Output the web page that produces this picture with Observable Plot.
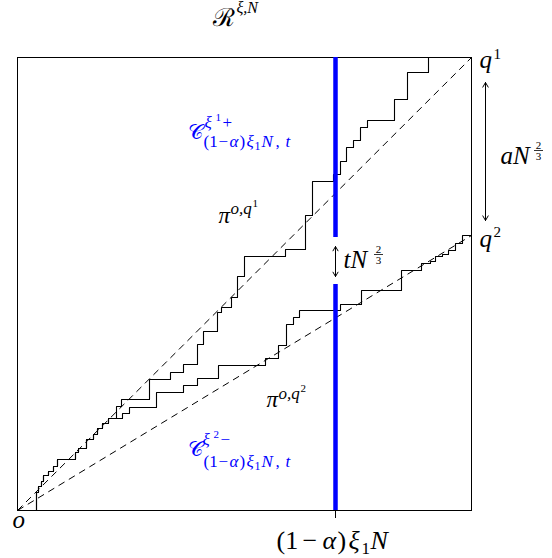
<!DOCTYPE html>
<html><head><meta charset="utf-8">
<script src="https://cdn.jsdelivr.net/npm/d3@7"></script>
<script src="https://cdn.jsdelivr.net/npm/@observablehq/plot@0.6"></script>
<style>body{margin:0;background:#fff;}</style>
</head><body><div id="chart"></div>
<script>
// Staircase geodesic pi^{o,q1}: step corner points (right, then up)
const upperX = [0,19,21,24,26,31,36,40,58,61,69,76,80,85,91,99,104,132,153,166,180,186,200,204,214,220,227,268,288,295,316,323,329,336,343,350,377,390,411];
const upperY = [0,18,24,29,35,39,44,51,58,62,71,76,82,87,92,104,111,131,138,146,166,179,198,203,213,234,254,261,295,329,336,349,363,370,383,390,411,438,453];
// Staircase geodesic pi^{o,q2}
const lowerX = [0,19,21,24,26,31,36,40,58,61,69,76,80,85,91,105,112,139,166,180,201,248,261,269,276,282,323,344,384,404,413,418,425,431,438,445,454];
const lowerY = [0,18,24,29,35,39,44,51,58,62,71,76,82,87,92,97,103,118,125,132,145,152,165,186,193,200,206,220,240,247,249,254,256,260,267,275,275];
// endpoints
const origin = [0, 0];
const q1 = [454, 453];
const q2 = [454, 275];
// vertical cut at (1-alpha) xi_1 N, with its gap
const cutX = 318;
const cutGap = [226, 273];

// label pieces: [text, x, y(baseline), size, italic, colour]
const K = "black", B = "#0000ff";
const pieces = [
  ["ℛ", 195, 485, 25, 0, K], ["ξ,N", 219, 498, 16, 1, K],
  ["q", 462, 443, 25, 1, K], ["1", 476, 452, 15, 0, K],
  ["q", 462, 264, 25, 1, K], ["2", 476, 274, 15, 0, K],
  ["o", -5, -17, 25, 1, K],
  ["π", 201, 288, 23, 1, K], ["o,q", 213, 297, 17, 1, K], ["1", 235, 304, 11, 0, K],
  ["π", 249, 104, 23, 1, K], ["o,q", 261, 112, 17, 1, K], ["2", 283, 119, 11, 0, K],
  ["aN", 483, 347, 25, 1, K],
  ["tN", 326, 243, 25, 1, K],
  // bottom tick label (1 − α)ξ1N
  ["(1", 259, -38, 26, 0, K], ["−", 285, -38, 26, 0, K], ["α", 305, -38, 26, 1, K],
  [")", 320, -38, 26, 0, K], ["ξ", 331, -38, 26, 1, K], ["1", 344, -43, 17, 0, K], ["N", 353, -38, 26, 1, K],
  // C^{xi1+}
  ["𝒞", 170, 372, 21, 0, B], ["ξ", 187, 383, 17, 1, B], ["1", 198, 390, 11, 0, B], ["+", 205, 383, 17, 0, B],
  // C^{xi2-}
  ["𝒞", 170, 55, 21, 0, B], ["ξ", 185, 66, 17, 1, B], ["2", 196, 73, 11, 0, B], ["−", 203, 66, 17, 0, B]
];
// subscripts (1−α)ξ1N,t for both C labels
const subBase = [364, 44];
const subPieces = [["(1", 186, 0], ["−", 201, 0], ["α", 212, 1], [")", 222, 0], ["ξ", 229, 1], ["1", 237, 0], ["N", 244, 1], [",", 258, 0], ["t", 268, 1]];
for (const yb of subBase) for (const [t, x, it] of subPieces)
  pieces.push([t, x, t === "1" ? yb - 3 : yb, t === "1" ? 12 : 17, it, B]);

// stacked fractions 2/3
const fracs = [{x: 521, y: 360, num: "2", den: "3"}, {x: 361, y: 256, num: "2", den: "3"}];
// double arrows (x, low, high)
const dArrows = [{x: 468, lo: 290, hi: 428}, {x: cutX, lo: 234, hi: 264}];

const P = pieces.map(p => ({t: p[0], x: p[1], y: p[2], s: p[3], it: p[4], c: p[5]}));
const upper = upperX.map((x, i) => ({x, y: upperY[i]}));
const lower = lowerX.map((x, i) => ({x, y: lowerY[i]}));
const arrows = dArrows.flatMap(a => {const m = (a.lo + a.hi) / 2; return [{x: a.x, y1: m, y2: a.hi}, {x: a.x, y1: m, y2: a.lo}];});
const font = "'Liberation Serif', 'DejaVu Serif', serif";

const chart = Plot.plot({
  width: 552, height: 558,
  marginLeft: 17, marginRight: 81, marginTop: 57, marginBottom: 48,
  x: {domain: [0, 454]},
  y: {domain: [0, 453], axis: null},
  style: {background: "white", overflow: "visible"},
  marks: [
    Plot.frame({stroke: "black", strokeWidth: 1}),
    Plot.link([q1, q2], {x1: () => origin[0], y1: () => origin[1], x2: d => d[0], y2: d => d[1], stroke: "black", strokeWidth: 1, strokeDasharray: "7,5"}),
    Plot.line(upper, {x: "x", y: "y", curve: "step-after", stroke: "black", strokeWidth: 1.1}),
    Plot.line(lower, {x: "x", y: "y", curve: "step-after", stroke: "black", strokeWidth: 1.1}),
    Plot.ruleX([{y1: 0, y2: cutGap[0]}, {y1: cutGap[1], y2: 453}], {x: () => cutX, y1: "y1", y2: "y2", stroke: "blue", strokeWidth: 4.5}),
    Plot.axisX({ticks: [cutX], tickFormat: () => "", tickSize: 8, label: null}),
    Plot.arrow(arrows, {x1: "x", x2: "x", y1: "y1", y2: "y2", stroke: "black", strokeWidth: 1, headLength: 8}),
    Plot.link(fracs, {x1: d => d.x - 4.5, x2: d => d.x + 4.5, y1: "y", y2: "y", stroke: "black", strokeWidth: 0.8}),
    Plot.text(fracs, {x: "x", y: d => d.y + 2, text: "num", fontSize: 11, lineAnchor: "bottom", fontFamily: font}),
    Plot.text(fracs, {x: "x", y: d => d.y - 1.5, text: "den", fontSize: 11, lineAnchor: "top", fontFamily: font}),
    Plot.text(P.filter(d => !d.it), {x: "x", y: "y", text: "t", fontSize: "s", fill: "c", textAnchor: "start", lineAnchor: "bottom", fontFamily: font}),
    Plot.text(P.filter(d => d.it), {x: "x", y: "y", text: "t", fontSize: "s", fill: "c", textAnchor: "start", lineAnchor: "bottom", fontFamily: font, fontStyle: "italic"})
  ]
});
document.getElementById("chart").appendChild(chart);
</script>
</body></html>
